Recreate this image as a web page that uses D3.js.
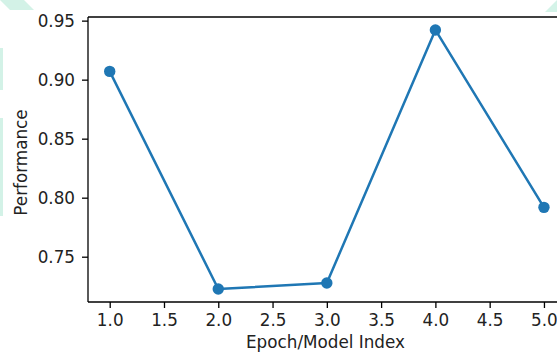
<!DOCTYPE html>
<html>
<head>
<meta charset="utf-8">
<script src="https://cdn.jsdelivr.net/npm/d3@7"></script>
<style>
  body { margin: 0; background: #fff; }
  svg { display: block; font-family: "DejaVu Sans", sans-serif; }
</style>
</head>
<body>
<div id="chart"></div>
<script>
const svgWidth = 557;
const svgHeight = 356;

// plot box (right edge runs past the picture, as in the reference crop)
const plotLeft = 88, plotTop = 17, plotBottom = 302;
const unitPx = 108.56;
const fontSize = "16.8px";

const epochs = [1, 2, 3, 4, 5];
const performance = [0.907, 0.7226, 0.7277, 0.9421, 0.7918];
const xTicks = [1.0, 1.5, 2.0, 2.5, 3.0, 3.5, 4.0, 4.5, 5.0];
const yTicks = [0.75, 0.80, 0.85, 0.90, 0.95];

const svg = d3.select("#chart")
    .append("svg")
    .attr("width", svgWidth)
    .attr("height", svgHeight);

// faint watermark shapes in the background
const wm = svg.append("g").attr("fill", "#c9f0e2").attr("opacity", 0.8);
wm.append("polygon").attr("points", "0,0 24,0 34,10 10,10");
wm.append("rect").attr("x", 0).attr("y", 48).attr("width", 3).attr("height", 42);
wm.append("rect").attr("x", 0).attr("y", 118).attr("width", 3).attr("height", 98);
wm.append("polygon").attr("points", "557,0 557,12 545,12");

// matplotlib-style 5% margins
const xExt = d3.extent(epochs);
const yExt = d3.extent(performance);
const xPad = (xExt[1] - xExt[0]) * 0.05;
const yPad = (yExt[1] - yExt[0]) * 0.05;

const x = d3.scaleLinear()
    .domain([xExt[0] - xPad, xExt[1] + xPad])
    .range([plotLeft, plotLeft + (xExt[1] - xExt[0] + 2 * xPad) * unitPx]);

const y = d3.scaleLinear()
    .domain([yExt[0] - yPad, yExt[1] + yPad])
    .range([plotBottom, plotTop]);

const plotRight = x.range()[1];

// axes
const xAxis = svg.append("g")
    .attr("transform", `translate(0, ${plotBottom})`)
    .call(d3.axisBottom(x).tickValues(xTicks).tickFormat(d3.format(".1f"))
        .tickSizeOuter(0).tickSize(6).tickPadding(6));

const yAxis = svg.append("g")
    .attr("transform", `translate(${plotLeft}, 0)`)
    .call(d3.axisLeft(y).tickValues(yTicks).tickFormat(d3.format(".2f"))
        .tickSizeOuter(0).tickSize(6).tickPadding(7));

[xAxis, yAxis].forEach(g => {
    g.select(".domain").remove();
    g.selectAll("line").attr("stroke", "#000").attr("stroke-width", 1.3);
    g.selectAll("text")
        .style("font-family", "DejaVu Sans, sans-serif")
        .style("font-size", fontSize)
        .attr("fill", "#222");
});

// spines
svg.append("g")
    .attr("stroke", "#000")
    .attr("stroke-width", 1.3)
    .attr("fill", "none")
    .selectAll("line")
    .data([
        [plotLeft, plotTop, plotLeft, plotBottom],
        [plotLeft, plotBottom, plotRight, plotBottom],
        [plotLeft, plotTop, plotRight, plotTop],
        [plotRight, plotTop, plotRight, plotBottom]
    ])
    .enter().append("line")
    .attr("x1", d => d[0]).attr("y1", d => d[1])
    .attr("x2", d => d[2]).attr("y2", d => d[3]);

// series
const pts = epochs.map((e, i) => ({ e: e, v: performance[i] }));

svg.append("path")
    .datum(pts)
    .attr("fill", "none")
    .attr("stroke", "#1f77b4")
    .attr("stroke-width", 2.5)
    .attr("stroke-linejoin", "round")
    .attr("d", d3.line().x(d => x(d.e)).y(d => y(d.v)));

svg.append("g")
    .selectAll("circle")
    .data(pts)
    .enter().append("circle")
    .attr("cx", d => x(d.e))
    .attr("cy", d => y(d.v))
    .attr("r", 5.7)
    .attr("fill", "#1f77b4");

// axis labels
svg.append("text")
    .attr("x", 325.5)
    .attr("y", 348)
    .attr("text-anchor", "middle")
    .style("font-size", fontSize)
    .attr("fill", "#222")
    .text("Epoch/Model Index");

svg.append("text")
    .attr("transform", `translate(27, ${(plotTop + plotBottom) / 2 + 3}) rotate(-90)`)
    .attr("text-anchor", "middle")
    .style("font-size", fontSize)
    .attr("fill", "#222")
    .text("Performance");
</script>
</body>
</html>
